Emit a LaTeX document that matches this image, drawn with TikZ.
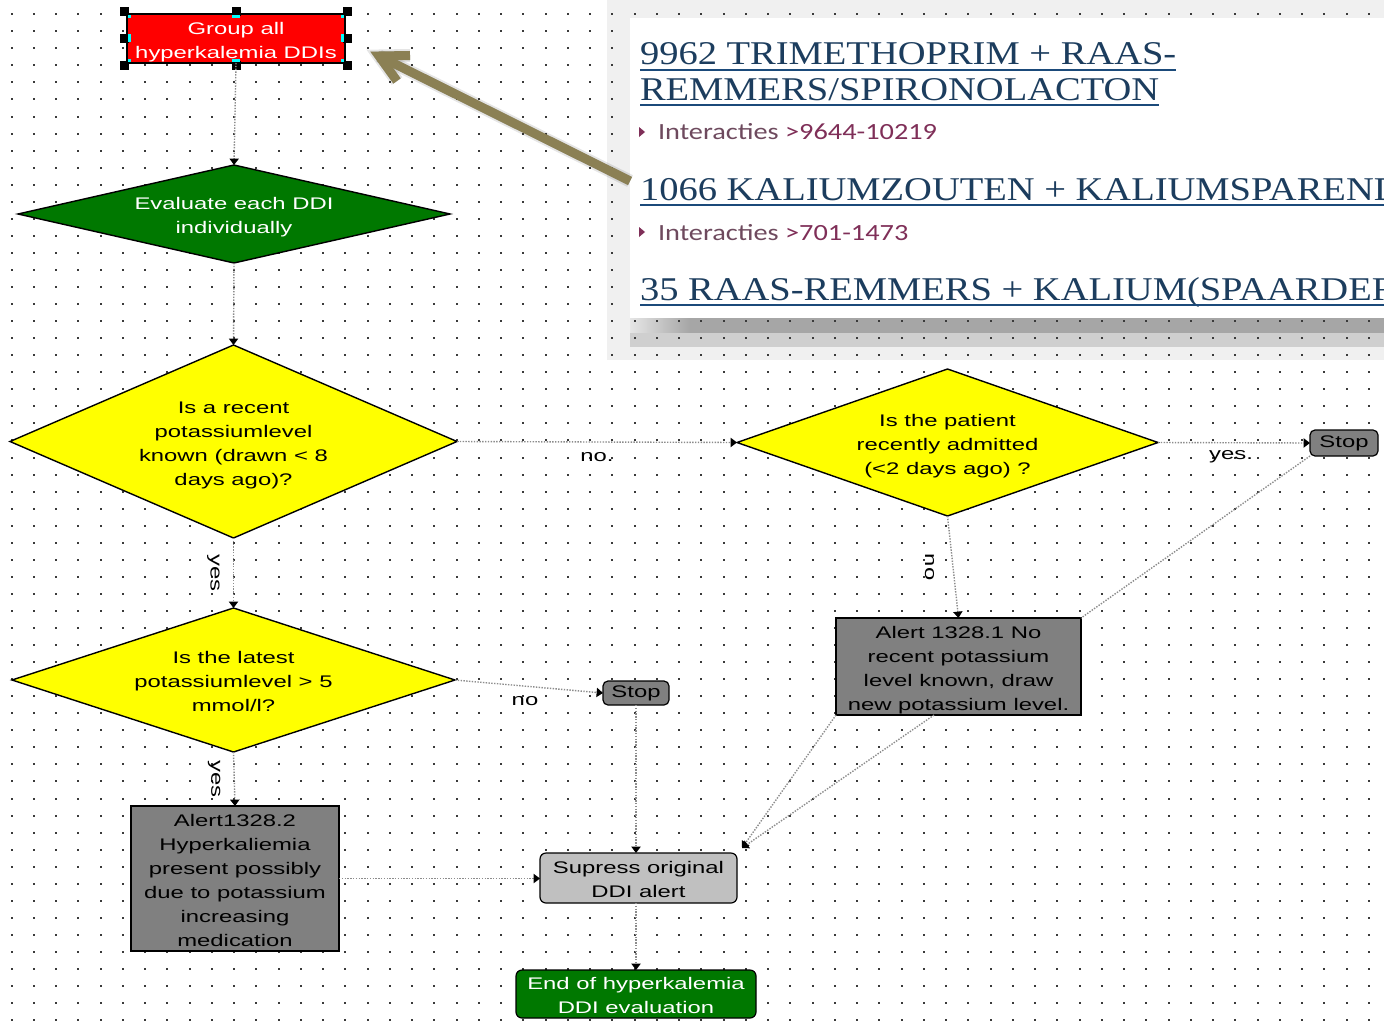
\documentclass[tikz,border=0pt]{standalone}
\usepackage{graphicx}
\usepackage{fontspec}
\setmainfont{Liberation Serif}
\newfontfamily\flowfont{Liberation Sans}
\newfontfamily\webfont{Carlito}
\usetikzlibrary{shapes.geometric,arrows.meta,calc}

\definecolor{dotc}{HTML}{3A3A3A}
\definecolor{connc}{HTML}{8C8C8C}
\definecolor{decgreen}{HTML}{007800}
\definecolor{decyellow}{HTML}{FFFF00}
\definecolor{alertgray}{HTML}{808080}
\definecolor{lightbox}{HTML}{C0C0C0}
\definecolor{linkblue}{HTML}{1C3D5E}
\definecolor{ulblue}{HTML}{1B4A7A}
\definecolor{crumbgray}{HTML}{6E4A5E}
\definecolor{crumbred}{HTML}{7F2F58}
\definecolor{pointer}{HTML}{8B8054}
\definecolor{startred}{HTML}{FF0000}
\definecolor{handlecyan}{HTML}{00FFFF}

% flowchart text: wide sans, centred lines, set slightly low in its box
\newcommand{\flowtxt}[1]{\raisebox{-1.5pt}[\height][\depth]{\scalebox{1.42}[1]{\flowfont\fontsize{8.4}{12}\selectfont\begin{tabular}{@{}c@{}}#1\end{tabular}}}}
\newcommand{\flowlbl}[1]{\scalebox{1.42}[1]{\flowfont\fontsize{8.4}{12}\selectfont #1}}
% web page panel text
\newcommand{\linktxt}[1]{\scalebox{1.16}[1]{\fontsize{16.6}{20}\selectfont #1}}
\newcommand{\crumbtxt}[2]{\scalebox{1.22}[1]{\webfont\fontsize{11.6}{14}\selectfont\textcolor{crumbgray}{#1}\textcolor{crumbred}{#2}}}

\begin{document}
\begin{tikzpicture}[x=0.5pt,y=-0.5pt,
  conn/.style={draw=connc,line width=0.7pt,dash pattern=on 0.7pt off 0.7pt},
  arr/.style={conn,-{Triangle[length=3.2pt,width=4.6pt,color=black,fill=black]}},
  box/.style={draw=black,line width=0.6pt,inner sep=0pt,outer sep=0pt},
  decision/.style={box,diamond,line width=0.7pt,fill=decyellow},
  alertbox/.style={box,fill=alertgray},
  stopbox/.style={box,fill=alertgray,rounded corners=2.5pt,minimum width=34pt,minimum height=13pt},
  lbl/.style={inner sep=0pt,outer sep=0pt},
  linkline/.style={draw=ulblue,line width=1pt},
  pointerline/.style={draw=pointer,line width=4.5pt,line join=miter,line cap=butt}
]
\useasboundingbox (0,0) rectangle (1384,1022);
\fill[white] (0,0) rectangle (1384,1022);

% backdrop and shadow of the pasted web page
\fill[black!6] (607,0) rectangle (1384,360);
\shade[left color=black!10,right color=black!35] (630,318) rectangle (690,333);
\fill[black!35] (690,318) rectangle (1384,333);
\fill[black!19] (630,333) rectangle (1384,347);

% dotted drawing grid
\foreach \i in {0,...,61}{
  \foreach \j in {0,...,59}{
    \fill[dotc] ({10.5+22.25*\i},{13.2+17.05*\j}) rectangle +(2,2);
  }
}

% web page panel
\node[fill=white,inner sep=0pt,outer sep=0pt,minimum width=377pt,minimum height=150pt,anchor=north west] (panel) at (630,18) {};
\begin{scope}
  \clip (630,18) rectangle (1384,318);
  \node[lbl,anchor=base west,text=linkblue] (link1) at (640,65) {\linktxt{9962 TRIMETHOPRIM + RAAS-}};
  \draw[linkline] ($(link1.base west)+(0,5)$) -- ($(link1.base east)+(0,5)$);
  \node[lbl,anchor=base west,text=linkblue] (link2) at (640,100) {\linktxt{REMMERS/SPIRONOLACTON}};
  \draw[linkline] ($(link2.base west)+(0,5)$) -- ($(link2.base east)+(0,5)$);
  \fill[crumbred] (639,127) -- (645,132) -- (639,137) -- cycle;
  \node[lbl,anchor=base west] (crumb1) at (658,140) {\crumbtxt{Interacties }{>9644-10219}};
  \node[lbl,anchor=base west,text=linkblue] (link3) at (640,200) {\linktxt{1066 KALIUMZOUTEN + KALIUMSPAREND}};
  \draw[linkline] ($(link3.base west)+(0,5)$) -- ($(link3.base east)+(0,5)$);
  \fill[crumbred] (639,227) -- (645,232) -- (639,237) -- cycle;
  \node[lbl,anchor=base west] (crumb2) at (658,240) {\crumbtxt{Interacties }{>701-1473}};
  \node[lbl,anchor=base west,text=linkblue] (link4) at (640,300) {\linktxt{35 RAAS-REMMERS + KALIUM(SPAARDER}};
  \draw[linkline] ($(link4.base west)+(0,5)$) -- ($(link4.base east)+(0,5)$);
\end{scope}

% flowchart nodes
\node[box,fill=startred,text=white,minimum width=109pt,minimum height=24.5pt] (start) at (236,38.5) {\flowtxt{Group all\\hyperkalemia DDIs}};
\node[decision,fill=decgreen,text=white,minimum width=216pt,minimum height=49pt,shape aspect=4.41] (eval) at (234,214) {\flowtxt{Evaluate each DDI\\individually}};
\node[decision,minimum width=223.5pt,minimum height=96.5pt,shape aspect=2.316] (qrecent) at (233.5,441.5) {\flowtxt{Is a recent\\potassiumlevel\\known (drawn < 8\\days ago)?}};
\node[decision,minimum width=210.5pt,minimum height=73.5pt,shape aspect=2.864] (qadmit) at (947.5,442.5) {\flowtxt{Is the patient\\recently admitted\\(<2 days ago) ?}};
\node[stopbox] (stopA) at (1344,443) {\flowlbl{Stop}};
\node[alertbox,minimum width=122.5pt,minimum height=48.5pt] (alertA) at (958.5,666.5) {\flowtxt{Alert 1328.1 No\\recent potassium\\level known, draw\\new potassium level.}};
\node[decision,minimum width=221.5pt,minimum height=72pt,shape aspect=3.076] (qlatest) at (233.5,680) {\flowtxt{Is the latest\\potassiumlevel > 5\\mmol/l?}};
\node[stopbox,minimum width=33pt,minimum height=12pt] (stopB) at (636,693) {\flowlbl{Stop}};
\node[alertbox,minimum width=104pt,minimum height=72.5pt] (alertB) at (235,878.5) {\flowtxt{Alert1328.2\\Hyperkaliemia\\present possibly\\due to potassium\\increasing\\medication}};
\node[box,fill=lightbox,rounded corners=3pt,minimum width=98.5pt,minimum height=25pt] (supp) at (638.5,878) {\flowtxt{Supress original\\DDI alert}};
\node[box,fill=decgreen,text=white,rounded corners=3pt,minimum width=120pt,minimum height=24pt] (finish) at (636,994) {\flowtxt{End of hyperkalemia\\DDI evaluation}};

% selection handles of the first step
\foreach \hx/\hy/\ox/\oy in {127/14/-1/-1,236/14/0/-1,345/14/1/-1,127/38.5/-1/0,345/38.5/1/0,127/63/-1/1,236/63/0/1,345/63/1/1}{
  \fill[black] ({\hx+2.5*\ox-4.5},{\hy+2.5*\oy-4.5}) rectangle +(9,9);
  \fill[handlecyan] ({\hx-2.5*\ox-4+2.5*abs(\ox)},{\hy-2.5*\oy-4+2.5*abs(\oy)}) rectangle ({\hx-2.5*\ox+4-2.5*abs(\ox)},{\hy-2.5*\oy+4-2.5*abs(\oy)});
}

% connectors
\draw[arr] (start.south) -- (eval.north);
\draw[arr] (eval.south) -- (qrecent.north);
\draw[arr] (qrecent.east) -- node[lbl,pos=0.5,anchor=base,yshift=-9.5pt] (lno1) {\flowlbl{no.}} (qadmit.west);
\draw[arr] (qadmit.east) -- node[lbl,pos=0.5,anchor=base,xshift=-1.5pt,yshift=-8.5pt] (lyes1) {\flowlbl{yes.}} (stopA.west);
\draw[arr] (qadmit.south) -- coordinate[midway] (mno2) (alertA.north);
\node[lbl,rotate=-90,anchor=base] (lno2) at ($(mno2)+(-28,0)$) {\flowlbl{no}};
\draw[conn] (stopA.south west) -- (alertA.north east);
\draw[arr] (qrecent.south) -- coordinate[midway] (myes2) (qlatest.north);
\node[lbl,rotate=-90,anchor=base] (lyes2) at ($(myes2)+(-23,0)$) {\flowlbl{yes}};
\draw[arr] (qlatest.east) -- node[lbl,pos=0.5,anchor=base,xshift=-2pt,yshift=-9.5pt] (lno3) {\flowlbl{no}} (stopB.west);
\draw[arr] (qlatest.south) -- coordinate[midway] (myes3) (alertB.north);
\node[lbl,rotate=-90,anchor=base] (lyes3) at ($(myes3)+(-23,0)$) {\flowlbl{yes}};
\draw[arr] (stopB.south) -- (stopB.south |- supp.north);
\draw[arr] (alertB.east) -- (alertB.east -| supp.west);
\coordinate (suppin) at ($(supp.north east)+(5,-5)$);
\coordinate (alertAout) at ($(alertA.south west)!0.4!(alertA.south east)$);
\draw[arr] (alertA.south west) -- (suppin);
\draw[arr] (alertAout) -- (suppin);
\draw[arr] (finish.north |- supp.south) -- (finish.north);

% pointer from the web page to the first step
\coordinate (ptail) at ($(panel.west)+(0,13)$);
\coordinate (ptip) at ($(start.east)+(34,17.5)$);
\coordinate (pbarbA) at ($(ptip)+(31,-0.5)$);
\coordinate (pbarbB) at ($(ptip)+(18,25)$);
\begin{scope}[shift={(3,4)}]
  \draw[pointerline,draw=black,opacity=0.10,line width=6.5pt] (ptail) -- (ptip);
  \draw[pointerline,draw=black,opacity=0.10,line width=6.5pt] (pbarbA) -- (ptip) -- (pbarbB);
  \draw[pointerline,draw=black,opacity=0.18] (ptail) -- (ptip);
  \draw[pointerline,draw=black,opacity=0.18] (pbarbA) -- (ptip) -- (pbarbB);
\end{scope}
\draw[pointerline] (ptail) -- (ptip);
\draw[pointerline] (pbarbA) -- (ptip) -- (pbarbB);
\end{tikzpicture}
\end{document}
